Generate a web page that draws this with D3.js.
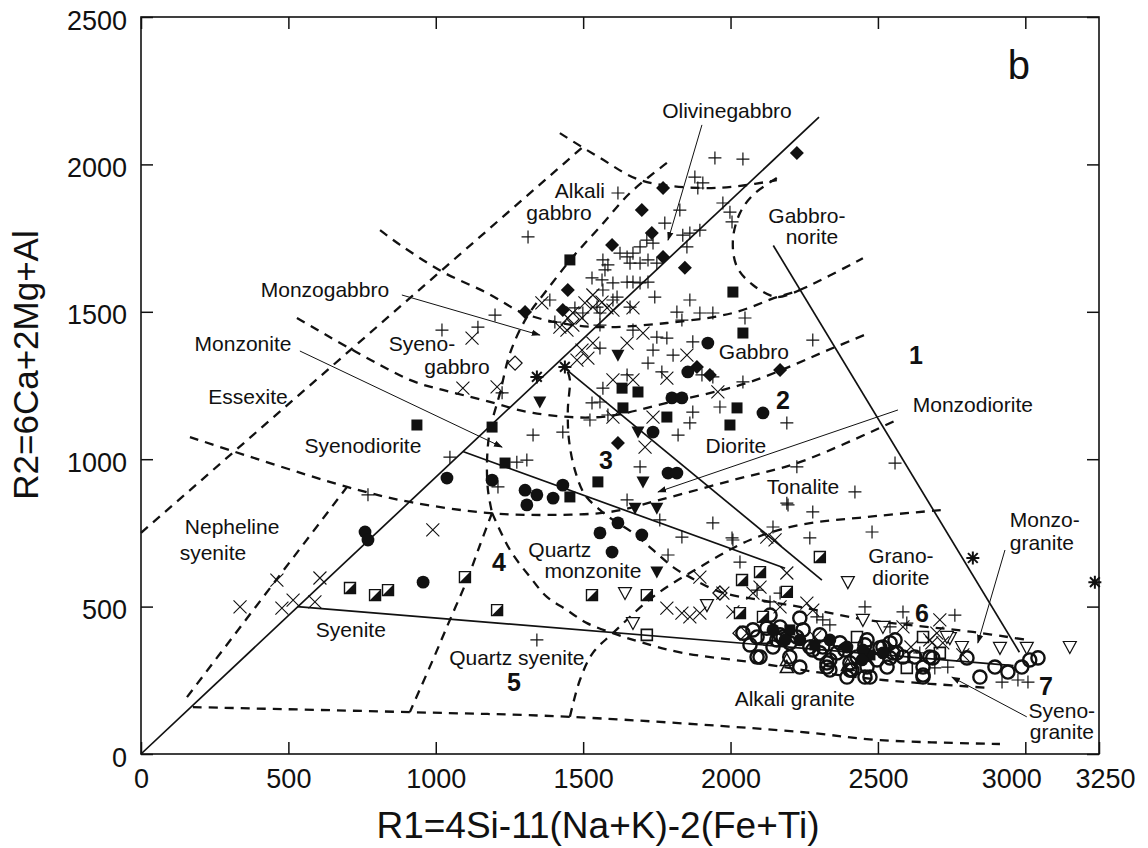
<!DOCTYPE html>
<html>
<head>
<meta charset="utf-8">
<script src="https://cdn.jsdelivr.net/npm/d3@7"></script>
<style>
  body { margin: 0; background: #fff; }
  text { font-family: "Liberation Sans", Arial, Helvetica, sans-serif; fill: #111; }
</style>
</head>
<body>
<svg id="chart" width="1148" height="848"></svg>
<script>
// ---------------- data (R1, R2) ----------------
const xTicks = [0, 500, 1000, 1500, 2000, 2500, 3000, 3250];
const yTicks = [0, 500, 1000, 1500, 2000, 2500];

// sample groups
const plusPts = [[1947,2022],[2042,2018],[1879,1957],[1906,1937],[1889,1920],[1618,1903],[1974,1869],[1998,1838],[2005,1805],[1828,1845],[1777,1801],[1313,1754],[1838,1760],[1862,1767],[1896,1777],[1852,1720],[1716,1743],[1737,1733],[1693,1720],[1669,1699],[1649,1686],[1625,1699],[1659,1665],[1693,1665],[1720,1676],[1750,1665],[1567,1676],[1574,1642],[1584,1659],[1530,1615],[1564,1608],[1601,1598],[1649,1601],[1669,1601],[1693,1598],[1720,1601],[1743,1550],[1862,1540],[1615,1550],[1567,1574],[1387,1540],[1472,1513],[1499,1496],[1547,1516],[1557,1496],[1601,1540],[1659,1516],[1818,1499],[1835,1472],[1896,1496],[1940,1496],[2049,1479],[1021,1438],[1143,1448],[1201,1489],[1404,1465],[1557,1455],[1669,1438],[1750,1414],[1784,1411],[1872,1398],[1737,1370],[1805,1353],[1720,1326],[1557,1377],[1767,1296],[1903,1286],[1940,1279],[2042,1262],[1567,1241],[1649,1286],[1530,1191],[1557,1194],[1523,1133],[1584,1150],[1872,1160],[1862,1123],[1964,1177],[2191,1123],[1822,1082],[1330,1082],[1431,1092],[1693,974],[1048,1007],[1275,990],[1309,997],[1211,906],[2191,851],[1940,784],[1760,794],[2005,733],[1835,736],[2144,770],[2225,974],[1225,1225],[1649,862],[2279,1404],[1343,387],[1788,675],[2008,726],[2032,651],[2195,845],[770,879],[2558,987],[2422,889],[2279,821],[2480,753],[2269,733],[2456,499],[2585,482],[2761,471],[2921,244],[2975,251],[3009,244],[2693,292],[2737,295],[2313,455],[2337,438],[2168,546],[2642,343],[2090,556],[2134,516],[2293,465],[2541,431],[2598,444]];
const crossPts = [[1360,1530],[1506,1530],[1533,1516],[1581,1513],[1448,1479],[1465,1455],[1445,1438],[1496,1479],[1601,1506],[1669,1513],[1123,1411],[1703,1428],[1533,1557],[1564,1533],[1465,1496],[1421,1448],[1533,1394],[1496,1370],[1649,1394],[1852,1353],[1516,1343],[1479,1336],[1092,1241],[1208,1245],[1601,1269],[1669,1269],[1784,1275],[1957,1228],[1737,1143],[1601,1143],[1710,1041],[990,760],[2151,726],[1784,495],[1835,478],[1862,465],[1896,600],[2191,614],[2008,482],[2076,546],[2123,736],[461,590],[607,597],[336,499],[478,495],[516,522],[590,516],[2710,455],[2788,336],[2683,377],[1974,546],[1896,478],[2100,566],[2259,512],[2279,488],[2676,387],[2720,377],[2585,431],[2286,397],[2612,363],[2168,499],[2700,410]];
const diamondPts = [[2225,2039],[1771,1920],[1699,1845],[1733,1767],[1598,1727],[1771,1686],[1845,1649],[1448,1574],[1431,1506],[1303,1499],[1886,1313],[1930,1286],[2168,1303],[1618,1055]];
const squarePts = [[1455,1676],[2008,1567],[2042,1428],[1632,1241],[1686,1228],[1635,1174],[1784,1143],[2022,1174],[1998,1116],[936,1116],[1191,1109],[1235,987],[1550,923],[1455,872],[2201,421],[2473,336],[2286,370]];
const circlePts = [[1923,1394],[1855,1296],[2110,1157],[1737,1092],[1038,936],[1191,929],[1303,895],[1343,879],[1398,868],[1431,912],[1309,845],[1788,953],[1818,953],[1557,750],[1618,784],[1699,743],[1598,685],[957,583],[760,753],[770,726],[1801,1208],[1835,1208],[2144,421],[2185,387],[2337,387],[2395,363],[2449,353],[2517,343],[2235,387],[2446,319]];
const triDownPts = [[1618,1353],[1353,1194],[1686,1092],[1703,923],[1676,834],[1750,834],[1750,617]];
const halfSquarePts = [[1099,600],[1208,488],[1530,539],[1716,539],[2039,590],[2100,617],[2032,478],[2110,465],[2191,550],[709,563],[794,539],[838,556],[2303,668]];
const openTriDownPts = [[1642,546],[1669,444],[1920,505],[2398,583],[2914,360],[3005,360],[3151,363],[2744,393],[2785,363],[2449,455],[2517,431],[2734,397]];
const openCirclePts = [[3043,326],[3015,319],[2988,295],[2941,278],[2897,295],[2846,261],[2653,261],[2802,326],[2686,326],[2625,329],[2473,261],[2412,285],[2066,370],[2100,329],[2201,329],[2168,404],[2246,421],[2201,377],[2337,319],[2327,295],[2405,285],[2429,329],[2497,319],[2541,326],[2585,329],[2653,295],[2371,377],[2313,363],[2269,363],[2144,363],[2123,427],[2076,421],[2090,329],[2134,471],[2235,461],[2303,404],[2388,353],[2456,370],[2507,360],[2558,387],[2042,410],[2090,397],[2225,397],[2303,343],[2361,343],[2541,377],[2564,343],[2676,329],[2405,309],[2337,285],[2395,261],[2235,295],[2279,353],[2327,309],[2463,387],[2517,363],[2551,343],[2531,295],[2463,295],[2178,397],[2456,261],[2653,268],[2157,387],[2168,431]];
const openSquarePts = [[1716,404],[2598,292],[2710,343],[2123,394],[2429,397],[2653,397]];
const openDiamondPts = [[1269,1326],[1964,546],[2032,410]];
const openTriUpPts = [[2191,319],[2398,302],[2191,295]];
const asteriskPts = [[1343,1279],[1438,1313],[2822,665],[3236,583]];

// field boundaries (solid)
const solidMain = [[0,0],[2300,2160]];
const solidSyenite = [[530,500],[2960,300]];
const solidMonzonite = [[1092,1026],[2185,630]];
const solidDiorite = [[1430,1315],[2310,590]];
const solidGranite = [[2145,1725],[2980,345]];

// field boundaries (dashed)
const dashAlkaliGabbroLeft = [[0,750],[1500,2060]];
const dashOlivineTop = [[1421,2106],[1557,2022],[1693,1947],[1896,1920],[2032,1927],[2157,1947]];
const dashGabbronorite = [[2157,1954],[2076,1896],[2032,1835],[2008,1743],[2022,1652],[2076,1591],[2157,1550],[2235,1574]];
const dashMonzogabbroTop = [[811,1777],[879,1727],[1024,1635],[1174,1564],[1296,1496],[1421,1462],[1557,1448],[1784,1462],[2008,1496],[2157,1550],[2235,1574],[2449,1682]];
const dashSyenodioriteTop = [[529,1479],[912,1269],[1024,1235],[1160,1201],[1330,1157],[1557,1143],[1784,1191],[2066,1262],[2347,1377],[2463,1425]];
const dashAlkaliCurve = [[1784,2005],[1659,1903],[1557,1788],[1465,1686],[1377,1574],[1309,1482],[1252,1360],[1218,1225],[1184,1099],[1174,997],[1177,896],[1191,818]];
const dashQuartzSyeniteLeft = [[1191,818],[1150,709],[1106,590],[1048,455],[990,319],[912,142]];
const dashQuartzLine = [[166,1075],[699,906],[912,855],[1184,817],[1387,811],[1591,821],[1760,862],[2008,929],[2235,990],[2564,1133]];
const dashNephelineLeft = [[156,193],[699,906]];
const dashGraniteLower = [[1191,818],[1252,692],[1320,600],[1377,533],[1445,488],[1513,444],[1601,410],[1693,380],[1838,343],[2066,312],[2313,275],[2517,251],[2880,224]];
const dashMonzoniteInner = [[1448,1296],[1455,1269],[1448,1167],[1452,1065],[1472,963],[1506,879],[1557,828],[1601,794],[1669,750],[1737,692],[1805,634],[1862,600],[1964,550],[2100,522],[2235,499],[2463,455],[2822,414],[3005,387]];
const dashGranodioriteLeft = [[1455,126],[1489,251],[1533,343],[1601,410],[1737,533],[1896,634],[2066,726],[2235,777],[2463,804],[2720,828]];
const dashBase = [[176,159],[912,142],[1455,126],[2235,75],[2507,47],[2914,34]];

// leader arrows: [from, to]
const leaderArrows = [
  [[1903,2134],[1788,1743]],
  [[885,1557],[1353,1421]],
  [[539,1367],[1225,1041]],
  [[2568,1167],[1754,889]],
  [[2931,692],[2839,377]],
  [[3005,126],[2751,261]]
];

// field names [text, R1, R2]
const fieldNames = [
  ["Olivinegabbro",1988,2184],["Alkali",1489,1913],["gabbro",1418,1838],
  ["Gabbro-",2259,1828],["norite",2276,1757],["Monzogabbro",624,1574],
  ["Monzonite",346,1394],["Essexite",363,1211],["Syeno-",953,1394],["gabbro",1072,1313],
  ["Gabbro",2079,1364],["Monzodiorite",2822,1184],["Diorite",2018,1048],
  ["Syenodiorite",753,1045],["Tonalite",2246,906],["Nepheline",309,773],["syenite",244,682],
  ["Quartz",1421,695],["monzonite",1533,621],["Grano-",2578,675],["diorite",2578,600],
  ["Monzo-",3066,797],["granite",3056,716],["Syenite",712,421],["Quartz syenite",1275,326],
  ["Alkali granite",2218,187],["Syeno-",3124,149],["granite",3124,78]
];
const fieldNumbers = [["1",2629,1353],["2",2178,1201],["3",1577,997],["4",1214,651],["5",1265,244],["6",2649,478],["7",3070,231]];
const panelTag = ["b",2978,2337];

// ---------------- drawing ----------------
const svg = d3.select("#chart");
const x = d3.scaleLinear().domain([0,3250]).range([141,1099]);
const y = d3.scaleLinear().domain([0,2500]).range([754,17]);

const defs = svg.append("defs");
defs.append("marker").attr("id","arrowHead")
  .attr("viewBox","0 0 10 10").attr("refX",9).attr("refY",5)
  .attr("markerWidth",9).attr("markerHeight",9).attr("markerUnits","userSpaceOnUse")
  .attr("orient","auto")
  .append("path").attr("d","M0,1.5 L10,5 L0,8.5 Z").attr("fill","#111");

const plot = svg.append("g");

const straight = d3.line().x(d=>x(d[0])).y(d=>y(d[1]));
const smooth = d3.line().x(d=>x(d[0])).y(d=>y(d[1])).curve(d3.curveCatmullRom.alpha(0.5));

// dashed boundaries
[dashAlkaliGabbroLeft, dashOlivineTop, dashGabbronorite, dashMonzogabbroTop, dashSyenodioriteTop,
 dashAlkaliCurve, dashQuartzSyeniteLeft, dashQuartzLine, dashNephelineLeft, dashGraniteLower,
 dashMonzoniteInner, dashGranodioriteLeft, dashBase].forEach(pts => {
  plot.append("path").attr("d", smooth(pts)).attr("fill","none")
    .attr("stroke","#111").attr("stroke-width",2.3).attr("stroke-dasharray","9,7");
});

// solid boundaries
[solidMain, solidSyenite, solidMonzonite, solidDiorite, solidGranite].forEach(pts => {
  plot.append("path").attr("d", straight(pts)).attr("fill","none")
    .attr("stroke","#111").attr("stroke-width",1.7);
});

// leader arrows
leaderArrows.forEach(a => {
  plot.append("path").attr("d", straight(a)).attr("fill","none")
    .attr("stroke","#111").attr("stroke-width",1).attr("marker-end","url(#arrowHead)");
});

// marker shapes
const s = 6.5;
const shapes = {
  plus: `M${-s},0H${s}M0,${-s}V${s}`,
  cross: `M${-s},${-s}L${s},${s}M${-s},${s}L${s},${-s}`,
  asterisk: `M${-s},0H${s}M0,${-s}V${s}M${-s*0.75},${-s*0.75}L${s*0.75},${s*0.75}M${-s*0.75},${s*0.75}L${s*0.75},${-s*0.75}`,
  diamond: `M0,-7L7,0L0,7L-7,0Z`,
  square: `M-5.5,-5.5H5.5V5.5H-5.5Z`,
  triDown: `M-6.5,-5.5H6.5L0,6.5Z`,
  triUp: `M-6.5,5.5H6.5L0,-6.5Z`
};

function drawGroup(pts, fn) {
  const g = plot.append("g");
  pts.forEach(p => fn(g.append("g").attr("transform",`translate(${x(p[0])},${y(p[1])})`)));
}

drawGroup(openCirclePts, g => g.append("circle").attr("r",6.6).attr("fill","none").attr("stroke","#111").attr("stroke-width",2.4));
drawGroup(openSquarePts, g => g.append("path").attr("d",shapes.square).attr("fill","none").attr("stroke","#111").attr("stroke-width",1.6));
drawGroup(openDiamondPts, g => g.append("path").attr("d",shapes.diamond).attr("fill","none").attr("stroke","#111").attr("stroke-width",1.3));
drawGroup(openTriUpPts, g => g.append("path").attr("d",shapes.triUp).attr("fill","none").attr("stroke","#111").attr("stroke-width",1.5));
drawGroup(openTriDownPts, g => g.append("path").attr("d",shapes.triDown).attr("fill","#fff").attr("stroke","#111").attr("stroke-width",1.2));
drawGroup(plusPts, g => g.append("path").attr("d",shapes.plus).attr("stroke","#111").attr("stroke-width",1.2));
drawGroup(crossPts, g => g.append("path").attr("d",shapes.cross).attr("stroke","#111").attr("stroke-width",1.1));
drawGroup(asteriskPts, g => g.append("path").attr("d",shapes.asterisk).attr("stroke","#111").attr("stroke-width",2));
drawGroup(diamondPts, g => g.append("path").attr("d",shapes.diamond).attr("fill","#111"));
drawGroup(squarePts, g => g.append("path").attr("d",shapes.square).attr("fill","#111"));
drawGroup(circlePts, g => g.append("circle").attr("r",6.4).attr("fill","#111"));
drawGroup(triDownPts, g => g.append("path").attr("d",shapes.triDown).attr("fill","#111"));
drawGroup(halfSquarePts, g => {
  g.append("path").attr("d",shapes.square).attr("fill","#fff").attr("stroke","#111").attr("stroke-width",1.4);
  g.append("path").attr("d","M-5.5,5.5L5.5,-5.5V5.5Z").attr("fill","#111");
});

// field names
const labels = svg.append("g");
fieldNames.forEach(d => {
  labels.append("text").attr("x",x(d[1])).attr("y",y(d[2]))
    .attr("text-anchor","middle").attr("dominant-baseline","central")
    .attr("font-size",21).text(d[0]);
});
fieldNumbers.forEach(d => {
  labels.append("text").attr("x",x(d[1])).attr("y",y(d[2]))
    .attr("text-anchor","middle").attr("dominant-baseline","central")
    .attr("font-size",25).attr("font-weight","bold").text(d[0]);
});
labels.append("text").attr("x",x(panelTag[1])).attr("y",y(panelTag[2]))
  .attr("text-anchor","middle").attr("dominant-baseline","central")
  .attr("font-size",40).text(panelTag[0]);

// frame
svg.append("rect").attr("x",x(0)).attr("y",y(2500)).attr("width",x(3250)-x(0)).attr("height",y(0)-y(2500))
  .attr("fill","none").attr("stroke","#111").attr("stroke-width",1.6);

// axes with inward ticks on all four sides
const fmt = d3.format("d");
const axB = svg.append("g").attr("transform",`translate(0,${y(0)})`)
  .call(d3.axisBottom(x).tickValues(xTicks).tickSize(-12).tickPadding(15).tickFormat(fmt));
const axT = svg.append("g").attr("transform",`translate(0,${y(2500)})`)
  .call(d3.axisTop(x).tickValues(xTicks.slice(0,-1)).tickSize(-12).tickFormat(""));
const axL = svg.append("g").attr("transform",`translate(${x(0)},0)`)
  .call(d3.axisLeft(y).tickValues(yTicks).tickSize(-12).tickPadding(14).tickFormat(fmt));
const axR = svg.append("g").attr("transform",`translate(${x(3250)},0)`)
  .call(d3.axisRight(y).tickValues(yTicks).tickSize(-12).tickFormat(""));
[axB, axT, axL, axR].forEach(a => {
  a.select(".domain").remove();
  a.selectAll(".tick line").attr("stroke","#111").attr("stroke-width",1.5);
  a.selectAll("text").attr("font-size",27).attr("fill","#111")
    .attr("font-family",'"Liberation Sans", Arial, sans-serif');
});
axB.selectAll(".tick text").attr("dx", d => d === 3000 ? -14 : (d === 3250 ? 6 : 0));
axL.selectAll(".tick text").attr("dy", "0.45em");

// axis titles
svg.append("text").attr("x",598).attr("y",838).attr("text-anchor","middle")
  .attr("font-size",37).text("R1=4Si-11(Na+K)-2(Fe+Ti)");
svg.append("text").attr("transform","translate(38,365) rotate(-90)").attr("text-anchor","middle")
  .attr("font-size",35).text("R2=6Ca+2Mg+Al");
</script>
</body>
</html>
